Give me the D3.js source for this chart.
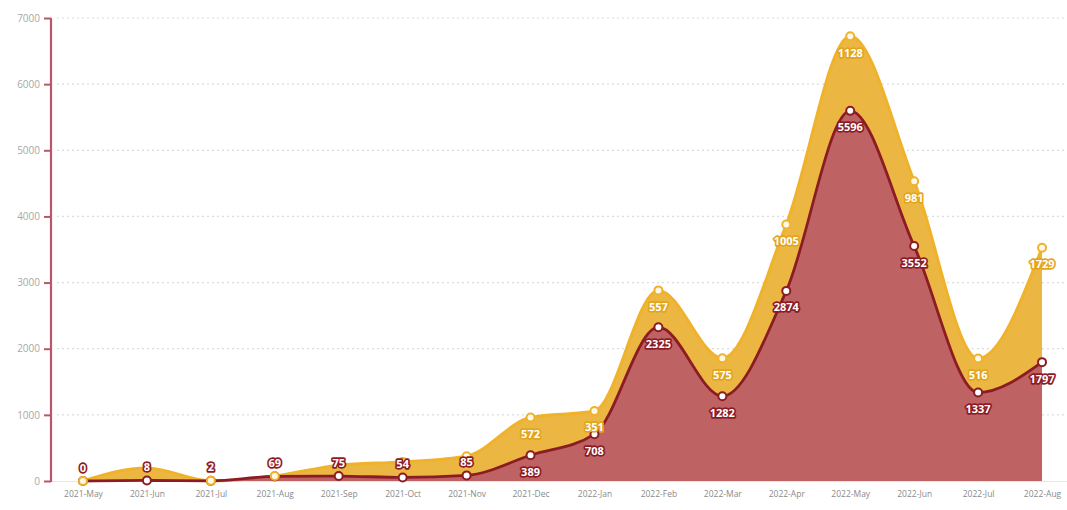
<!DOCTYPE html>
<html>
<head>
<meta charset="utf-8">
<script src="https://cdn.jsdelivr.net/npm/d3@7/dist/d3.min.js"></script>
<style>
  html, body { margin: 0; padding: 0; background: #ffffff; }
  svg { display: block; font-family: "Open Sans", "Noto Sans", sans-serif; }
</style>
</head>
<body>
<svg id="chart" width="1067" height="510"></svg>
<script>
// Monthly categories
const months = ["2021-May","2021-Jun","2021-Jul","2021-Aug","2021-Sep","2021-Oct","2021-Nov","2021-Dec",
                "2022-Jan","2022-Feb","2022-Mar","2022-Apr","2022-May","2022-Jun","2022-Jul","2022-Aug"];
// Bottom (red) series
const redValues = [0, 8, 2, 69, 75, 54, 85, 389, 708, 2325, 1282, 2874, 5596, 3552, 1337, 1797];
// Stacked (yellow) series
const yellowValues = [0, 190, 0, 6, 165, 235, 290, 572, 351, 557, 575, 1005, 1128, 981, 516, 1729];
// Y axis ticks
const yTicks = [0, 1000, 2000, 3000, 4000, 5000, 6000, 7000];

const svg = d3.select("#chart");
const W = 1067;

const x = d3.scalePoint().domain(months).range([51, 1074]).padding(0.5);
const y = d3.scaleLinear().domain([0, 7000]).range([481, 18]);

const RED_FILL = "#bf6263", RED_LINE = "#8c1c24";
const YEL_FILL = "#ebb742", YEL_LINE = "#f0b22a";
const curve = d3.curveMonotoneX;

const rows = months.map((m, i) => ({
  month: m, red: redValues[i], yellow: yellowValues[i], total: redValues[i] + yellowValues[i]
}));

// Gridlines
svg.append("g").selectAll("line").data(yTicks.filter(t => t > 0)).join("line")
  .attr("x1", 57).attr("x2", W)
  .attr("y1", d => y(d)).attr("y2", d => y(d))
  .attr("stroke", "#dcdcdc").attr("stroke-width", 1.2).attr("stroke-dasharray", "2,3");

// X baseline
svg.append("line").attr("x1", 51).attr("x2", W).attr("y1", y(0) + 0.5).attr("y2", y(0) + 0.5)
  .attr("stroke", "#e6e6e6").attr("stroke-width", 1);

// Stacked areas and their outlines
const redArea = d3.area().x(d => x(d.month)).y0(y(0)).y1(d => y(d.red)).curve(curve);
const yelArea = d3.area().x(d => x(d.month)).y0(d => y(d.red)).y1(d => y(d.total)).curve(curve);
const redLine = d3.line().x(d => x(d.month)).y(d => y(d.red)).curve(curve);
const yelLine = d3.line().x(d => x(d.month)).y(d => y(d.total)).curve(curve);

svg.append("path").datum(rows).attr("d", yelArea).attr("fill", YEL_FILL);
svg.append("path").datum(rows).attr("d", yelLine).attr("fill", "none")
  .attr("stroke", YEL_LINE).attr("stroke-width", 3);
svg.append("path").datum(rows).attr("d", redArea).attr("fill", RED_FILL);
svg.append("path").datum(rows).attr("d", redLine).attr("fill", "none")
  .attr("stroke", RED_LINE).attr("stroke-width", 2.8);

// Y axis
const yAxis = svg.append("g").attr("transform", "translate(51,0)")
  .call(d3.axisLeft(y).tickValues(yTicks).tickSize(7).tickPadding(4).tickFormat(d3.format("d")));
yAxis.select(".domain").attr("stroke", "#b9566a").attr("stroke-width", 2.2).attr("d", `M0,${y(7000)}V${y(0) + 1}`);
yAxis.selectAll(".tick line").attr("stroke", "#b9566a").attr("stroke-width", 2);
yAxis.selectAll(".tick text").attr("fill", "#a8a8a8").attr("font-size", 10)
  .attr("font-family", "Open Sans, sans-serif");

// X axis labels
const xAxis = svg.append("g").attr("transform", `translate(0,${y(0)})`)
  .call(d3.axisBottom(x).tickSize(0).tickPadding(10));
xAxis.select(".domain").remove();
xAxis.selectAll(".tick text").attr("fill", "#8a8a8a").attr("font-size", 8.5)
  .attr("font-family", "Open Sans, sans-serif");

// Points
svg.append("g").selectAll("circle").data(rows).join("circle")
  .attr("cx", d => x(d.month)).attr("cy", d => y(d.red)).attr("r", 4)
  .attr("fill", "#ffffff").attr("stroke", RED_LINE).attr("stroke-width", 2);
svg.append("g").selectAll("circle").data(rows).join("circle")
  .attr("cx", d => x(d.month)).attr("cy", d => y(d.total)).attr("r", 4)
  .attr("fill", "#fff8e6").attr("stroke", YEL_LINE).attr("stroke-width", 2);

// Labels: red below its point (above when too close to the baseline);
// yellow below its point when the band is wide enough.
function label(g, data, fy, text, stroke) {
  g.selectAll("text").data(data).join("text")
    .attr("x", d => x(d.month)).attr("y", fy)
    .attr("text-anchor", "middle").attr("dominant-baseline", "central")
    .attr("font-size", 11).attr("font-weight", 700)
    .attr("font-family", "Open Sans, sans-serif")
    .attr("fill", "#ffffff").attr("stroke", stroke).attr("stroke-width", 3.4)
    .attr("stroke-linejoin", "round").attr("paint-order", "stroke")
    .text(text);
}
label(svg.append("g"), rows.filter(d => d.yellow >= 300),
  d => y(d.total) + 16, d => d.yellow, "#e3a51c");
label(svg.append("g"), rows,
  d => d.red >= 300 ? y(d.red) + 16 : y(d.red) - 14, d => d.red, RED_LINE);
</script>
</body>
</html>
